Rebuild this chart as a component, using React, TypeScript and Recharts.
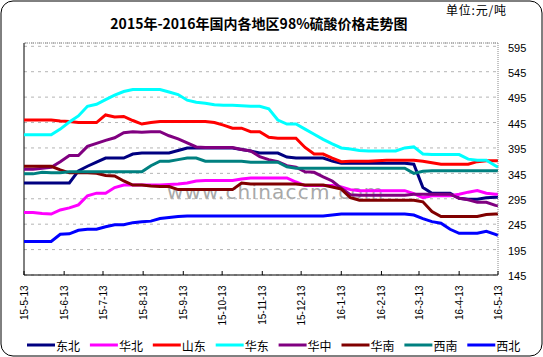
import React from 'react';
import { LineChart, Line, XAxis, YAxis, CartesianGrid, ReferenceLine } from 'recharts';

// days counted from 2015-05-13
const days = [
  0, 7, 14, 21, 28, 35, 42, 49, 56, 63, 70, 77, 84, 91, 98, 105, 112, 119,
  126, 133, 140, 147, 154, 161, 168, 175, 182, 189, 196, 203, 210, 217, 224,
  231, 238, 245, 252, 259, 266, 273, 280, 287, 294, 301, 308, 315, 322, 329,
  336, 343, 350, 357, 364, 366,
];

const tickDays = [0, 31, 61, 92, 123, 153, 184, 214, 245, 276, 305, 336, 366];
const tickLabels = [
  '15-5-13', '15-6-13', '15-7-13', '15-8-13', '15-9-13', '15-10-13', '15-11-13',
  '15-12-13', '16-1-13', '16-2-13', '16-3-13', '16-4-13', '16-5-13',
];
const yTicks = [145, 195, 245, 295, 345, 395, 445, 495, 545, 595];

const dongbei = [
  326, 326, 326, 326, 326, 326, 350, 359, 367, 375, 375, 375, 383, 385, 385, 385, 385, 390,
  395, 395, 395, 395, 395, 395, 392, 389, 385, 385, 385, 377, 375, 375, 375,
  375, 369, 365, 365, 365, 365, 365, 365, 365, 365, 363, 317, 306, 306, 306,
  296, 294, 294, 297, 298, 298,
];
const huabei = [
  268, 268, 266, 265, 273, 277, 283, 301, 306, 306, 317, 322, 322, 322, 322, 322, 323, 324,
  326, 330, 331, 331, 331, 331, 334, 336, 336, 336, 336, 336, 328, 321, 321,
  321, 321, 318, 313, 311, 311, 311, 311, 311, 311, 305, 297, 301, 301, 301,
  304, 308, 311, 306, 304, 304,
];
const shandong = [
  450, 450, 450, 450, 448, 447, 445, 445, 445, 460, 456, 457, 449, 442, 445, 447, 447, 447,
  447, 447, 447, 445, 440, 434, 434, 427, 427, 416, 414, 414, 414, 396, 383,
  383, 375, 368, 369, 369, 369, 370, 371, 371, 371, 371, 369, 366, 363, 363,
  363, 363, 368, 370, 370, 370,
];
const huadong = [
  421, 421, 421, 421, 432, 446, 458, 477, 481, 490, 499, 506, 510, 510, 510, 510, 505, 500,
  489, 485, 483, 480, 479, 479, 478, 477, 477, 472, 450, 442, 442, 432, 422,
  412, 403, 395, 393, 390, 389, 389, 389, 389, 395, 397, 383, 382, 382, 382,
  382, 373, 371, 371, 360, 357,
];
const huazhong = [
  353, 353, 355, 357, 368, 380, 380, 398, 404, 410, 415, 425, 427, 426, 427, 427, 419, 413,
  405, 397, 396, 396, 396, 396, 392, 389, 378, 372, 368, 360, 357, 348, 347,
  338, 330, 316, 303, 302, 302, 302, 302, 302, 302, 304, 304, 304, 304, 304,
  296, 293, 288, 288, 282, 281,
];
const huanan = [
  359, 359, 359, 359, 352, 346, 346, 346, 345, 341, 340, 330, 322, 322, 320, 319, 319, 313,
  313, 313, 313, 313, 313, 313, 326, 324, 324, 324, 324, 324, 324, 322, 322,
  322, 318, 314, 297, 292, 292, 292, 292, 292, 292, 292, 289, 270, 260, 260,
  260, 260, 260, 264, 265, 265,
];
const xinan = [
  344, 344, 347, 346, 346, 348, 348, 348, 348, 348, 348, 348, 348, 348, 360, 369, 369, 372,
  375, 375, 369, 369, 369, 369, 369, 367, 367, 367, 367, 358, 355, 355, 355,
  355, 355, 355, 355, 355, 355, 355, 355, 355, 355, 345, 349, 350, 350, 350,
  350, 350, 350, 350, 350, 350,
];
const xibei = [
  211, 211, 211, 211, 225, 226, 233, 235, 235, 240, 244, 244, 248, 250, 251, 256, 258, 260,
  261, 261, 261, 261, 261, 261, 261, 261, 261, 261, 261, 261, 261, 261, 261,
  261, 263, 265, 265, 265, 265, 265, 265, 265, 265, 263, 256, 250, 247, 235,
  227, 227, 227, 231, 225, 223,
];

const series = [
  { name: '东北', color: '#000080', values: dongbei },
  { name: '华北', color: '#ff00ff', values: huabei },
  { name: '山东', color: '#ff0000', values: shandong },
  { name: '华东', color: '#00ffff', values: huadong },
  { name: '华中', color: '#800080', values: huazhong },
  { name: '华南', color: '#800000', values: huanan },
  { name: '西南', color: '#008080', values: xinan },
  { name: '西北', color: '#0000ff', values: xibei },
];

const rows = days.map((day, i) => {
  const row: Record<string, number> = { day };
  series.forEach((s) => {
    row[s.name] = s.values[i];
  });
  return row;
});

const XTick = (props: any) => {
  const { x, y, payload } = props;
  const idx = tickDays.indexOf(payload.value);
  const ty = y + 10.5;
  return (
    <g>
      <line x1={x} y1={y - 4} x2={x} y2={y} stroke="#000" />
      <text
        x={x}
        y={ty}
        transform={`rotate(-90, ${x}, ${ty})`}
        textAnchor="end"
        dy="0.35em"
        fontSize={10}
        fontFamily="'Liberation Sans', Arial, sans-serif"
        fill="#000"
      >
        {tickLabels[idx]}
      </text>
    </g>
  );
};

const YTick = (props: any) => {
  const { x, y, payload } = props;
  return (
    <text x={x} y={y + 5.3} textAnchor="start" fontSize={11} fontFamily="'Liberation Sans', Arial, sans-serif" fill="#000">
      {payload.value}
    </text>
  );
};

const cjk = "'Noto Sans CJK SC', sans-serif";

export default function App() {
  return (
    <div style={{ position: 'absolute', left: 0, top: 0, width: 543, height: 357, background: '#fff' }}>
      <svg width={543} height={357} style={{ position: 'absolute', left: 0, top: 0 }}>
        <rect x={1} y={1} width={541} height={355} rx={12} ry={12} fill="#fff" stroke="#000" />
        <text x={259} y={23} textAnchor="middle" dominantBaseline="central" fontSize={14} fontWeight="bold" fontFamily={cjk} fill="#000">
          2015年-2016年国内各地区98%硫酸价格走势图
        </text>
        <text x={446} y={9} dominantBaseline="central" fontSize={12} letterSpacing={0.8} fontFamily={cjk} fill="#000">
          单位:元/吨
        </text>
        <text x={167} y={199} fontSize={20} letterSpacing={1.2} fontFamily="'DejaVu Sans', sans-serif" fill="#a8a8a8">
          www.chinaccm.com
        </text>
        {series.map((s, i) => {
          const sx = 27 + i * 62.9;
          return (
            <g key={s.name}>
              <line x1={sx} y1={345} x2={sx + 28} y2={345} stroke={s.color} strokeWidth={3} />
              <text x={sx + 29} y={345} dominantBaseline="central" fontSize={12} fontFamily={cjk} fill="#000">
                {s.name}
              </text>
            </g>
          );
        })}
      </svg>
      <div style={{ position: 'absolute', left: 0, top: 0 }}>
        <LineChart width={543} height={357} data={rows} margin={{ top: 43, right: 0, bottom: 0, left: 24 }}>
          <CartesianGrid vertical={false} stroke="#b4b4b4" strokeDasharray="3 4" />
          <XAxis
            dataKey="day"
            type="number"
            domain={[0, 366]}
            ticks={tickDays}
            height={82}
            tickLine={false}
            tickSize={0}
            tickMargin={0}
            axisLine={{ stroke: '#000' }}
            tick={<XTick />}
          />
          <YAxis
            orientation="right"
            domain={[145, 601.5]}
            ticks={yTicks}
            width={45}
            tickLine={false}
            tickSize={0}
            tickMargin={10}
            axisLine={{ stroke: '#888', strokeDasharray: '1 1' }}
            tick={<YTick />}
          />
          <ReferenceLine y={601.5} stroke="#888" strokeDasharray="1 1" />
          <ReferenceLine x={0} stroke="#000" />
          {series.map((s) => (
            <Line
              key={s.name}
              type="linear"
              dataKey={s.name}
              stroke={s.color}
              strokeWidth={3}
              dot={false}
              activeDot={false}
              isAnimationActive={false}
            />
          ))}
        </LineChart>
      </div>
    </div>
  );
}
